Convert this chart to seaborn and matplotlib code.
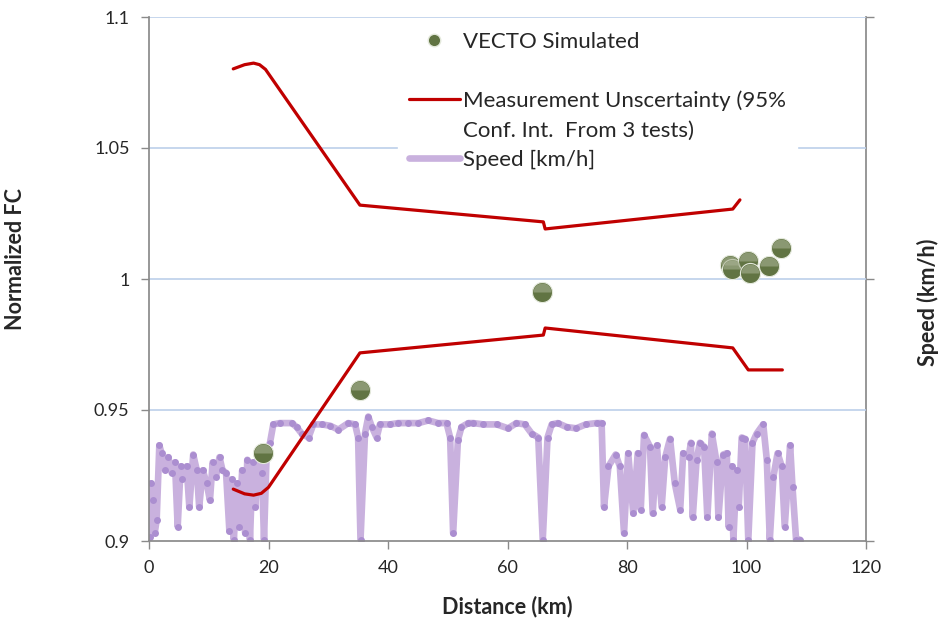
import numpy as np
import pandas as pd
import matplotlib
matplotlib.use("Agg")
import matplotlib.pyplot as plt
from matplotlib.lines import Line2D
from matplotlib.markers import MarkerStyle
from matplotlib.ticker import FuncFormatter
import seaborn as sns

# VECTO simulated points (distance km, normalized FC)
vecto_km = [19.1, 35.3, 65.8, 97.2, 97.5, 100.3, 100.6, 103.8, 105.7]
vecto_fc = [0.9336, 0.9576, 0.9950, 1.0053, 1.0040, 1.0070, 1.0024, 1.0050, 1.0117]

# measurement uncertainty band, upper and lower bound
upper_km = [14.1, 16.0, 17.5, 18.5, 19.5, 35.3, 66.0, 66.3, 97.7, 98.9]
upper_fc = [1.0802, 1.0818, 1.0824, 1.0818, 1.0800, 1.0282, 1.0218, 1.0191, 1.0267, 1.0302]
lower_km = [14.1, 16.0, 17.5, 18.8, 20.0, 35.3, 66.0, 66.3, 97.7, 100.3, 106.0]
lower_fc = [0.9198, 0.9180, 0.9175, 0.9182, 0.9205, 0.9718, 0.9786, 0.9813, 0.9737, 0.9653, 0.9653]

# speed trace (distance km, speed km/h)
speed_km = [0.17, 0.33, 0.72, 0.95, 1.28, 1.73, 2.1, 2.68, 3.23, 3.79, 4.35, 4.8, 5.3, 5.6,
            6.3, 6.75, 7.4, 8.0, 8.4, 9.0, 9.65, 10.2, 10.65, 11.2, 11.8, 12.3, 12.9, 13.45,
            13.85, 14.2, 14.7, 15.1, 15.6, 16.1, 16.45, 16.9, 17.35, 17.8, 18.3, 18.9, 19.25,
            19.7, 20.25, 20.8, 21.9, 23.9, 24.7, 25.55, 26.7, 27.5, 28.9, 30.3, 31.7, 33.35,
            34.5, 35.0, 35.4, 36.15, 36.7, 37.3, 38.1, 38.65, 40.3, 41.7, 43.4, 45.1, 46.75,
            48.4, 49.8, 50.4, 50.9, 51.7, 52.3, 53.45, 54.3, 55.95, 58.2, 60.1, 61.5, 62.9,
            64.05, 65.15, 65.9, 66.7, 67.4, 68.4, 69.9, 71.5, 73.1, 74.9, 75.75, 76.15, 76.9,
            78.1, 78.8, 79.5, 80.2, 81.05, 81.8, 82.3, 82.85, 83.85, 84.3, 85.0, 85.8, 86.4,
            87.2, 88.0, 88.9, 89.4, 90.3, 90.7, 91.0, 91.65, 92.2, 92.9, 93.45, 94.2, 95.0,
            95.3, 96.1, 96.7, 97.0, 97.5, 97.8, 98.35, 98.7, 99.2, 99.75, 100.3, 101.0, 101.7,
            102.8, 103.4, 103.9, 104.5, 105.2, 105.9, 106.4, 107.3, 107.7, 108.3, 108.95]
speed_kmh = [3, 44, 31, 6, 16, 73, 67, 54, 64, 52, 60, 11, 57, 47,
             57, 26, 66, 54, 26, 54, 44, 31, 60, 49, 64, 54, 52, 8,
             47, 1, 44, 11, 54, 6, 62, 1, 60, 26, 67, 52, 1,
             69, 75, 89, 90, 90, 87, 82, 79, 89, 89, 88, 85, 90,
             89, 79, 1, 82, 95, 87, 79, 89, 89, 90, 90, 90, 92,
             90, 90, 79, 6, 77, 87, 90, 90, 89, 89, 86, 90, 89,
             82, 79, 1, 79, 89, 90, 87, 86, 89, 90, 90, 26, 57,
             66, 57, 6, 67, 21, 67, 24, 81, 72, 21, 73, 26, 64,
             78, 44, 24, 67, 64, 75, 18, 62, 75, 72, 18, 82, 60,
             18, 66, 67, 11, 57, 1, 54, 26, 79, 78, 1, 75, 82,
             89, 62, 1, 49, 67, 57, 11, 73, 41, 1, 1]

red = "#c00000"
lavender = "#c9b1de"
olive_dark = "#617443"
olive_light = "#a7b192"
grid_blue = "#bcd0ea"
axis_grey = "#8a8a8a"

sns.set_theme(style="white")
plt.rcParams["font.family"] = ["Lato", "DejaVu Sans"]

fig = plt.figure(figsize=(9.4, 6.19), dpi=100)
ax1 = fig.add_axes([149 / 940, 1 - 541 / 619, 717 / 940, 524 / 619])
ax2 = ax1.twinx()

# speed on the secondary axis, kept behind the FC data
speed_df = pd.DataFrame({"km": speed_km, "speed": speed_kmh})
sns.lineplot(data=speed_df, x="km", y="speed", ax=ax2, color=lavender, lw=4.8,
             estimator=None, sort=False, marker="o", markersize=5,
             markerfacecolor="#ab8ed0", markeredgewidth=0)
ax2.set_ylim(0, 400)
ax2.set_yticks([0, 200, 400])
ax2.set_yticklabels([])
ax2.set_ylabel("Speed (km/h)", fontsize=15.5, fontweight="bold", rotation=90)
ax2.yaxis.set_label_coords(1.0715, 0.456)
ax2.tick_params(axis="y", direction="out", length=6, width=1, color=axis_grey, right=True)
for side in ["left", "top", "bottom"]:
    ax2.spines[side].set_visible(False)
ax2.spines["right"].set_color(axis_grey)

ax1.set_zorder(ax2.get_zorder() + 1)
ax1.patch.set_visible(False)

upper_df = pd.DataFrame({"km": upper_km, "fc": upper_fc})
lower_df = pd.DataFrame({"km": lower_km, "fc": lower_fc})
sns.lineplot(data=upper_df, x="km", y="fc", ax=ax1, color=red, lw=2.3, estimator=None, sort=False)
sns.lineplot(data=lower_df, x="km", y="fc", ax=ax1, color=red, lw=2.3, estimator=None, sort=False)

# shaded-looking bubbles: dark full circle, lighter top half on top
vecto_df = pd.DataFrame({"km": vecto_km, "fc": vecto_fc})
sns.scatterplot(data=vecto_df, x="km", y="fc", ax=ax1, s=210, color=olive_dark,
                edgecolor="#e4e9dc", linewidth=0.8, zorder=5)
sns.scatterplot(data=vecto_df, x="km", y="fc", ax=ax1, s=170, color=olive_light,
                marker=MarkerStyle("o", fillstyle="top"), linewidth=0, alpha=0.6, zorder=6)

ax1.set_xlim(0, 120)
ax1.set_ylim(0.9, 1.1)
ax1.set_xticks(np.arange(0, 121, 20))
ax1.set_yticks([0.9, 0.95, 1.0, 1.05, 1.1])
ax1.yaxis.set_major_formatter(FuncFormatter(lambda v, p: f"{v:g}"))
ax1.tick_params(axis="both", direction="out", length=6, width=1, color=axis_grey,
                labelsize=13, pad=8, left=True, bottom=True)
for yv in [0.95, 1.0, 1.05, 1.1]:
    ax1.axhline(yv, color=grid_blue, lw=1.2, zorder=0)
ax1.spines["top"].set_visible(False)
ax1.spines["right"].set_visible(False)
ax1.spines["left"].set_color(axis_grey)
ax1.spines["bottom"].set_color(axis_grey)
ax1.set_xlabel("Distance (km)", fontsize=15.5, fontweight="bold")
ax1.set_ylabel("Normalized FC", fontsize=15.5, fontweight="bold")
ax1.xaxis.set_label_coords(0.5, -0.105)
ax1.yaxis.set_label_coords(-0.1715, 0.538)

handles = [
    Line2D([], [], ls="", marker="o", markersize=9, color=olive_dark, markeredgecolor="#e4e9dc"),
    Line2D([], [], ls="", marker=""),
    Line2D([], [], color=red, lw=2.3),
    Line2D([], [], ls="", marker=""),
    Line2D([], [], color=lavender, lw=4.8),
]
labels = ["VECTO Simulated", " ", "Measurement Unscertainty (95%",
          "Conf. Int.  From 3 tests)", "Speed [km/h]"]
leg = ax1.legend(handles, labels, loc="upper left", bbox_to_anchor=(0.347, 0.993),
                 fontsize=16, frameon=True, framealpha=1, edgecolor="white",
                 fancybox=False, borderpad=0.5, labelspacing=0.42,
                 handlelength=2.3, handletextpad=0.15, borderaxespad=0)
leg.set_zorder(10)

fig.savefig("out.png", dpi=100, facecolor="white")
